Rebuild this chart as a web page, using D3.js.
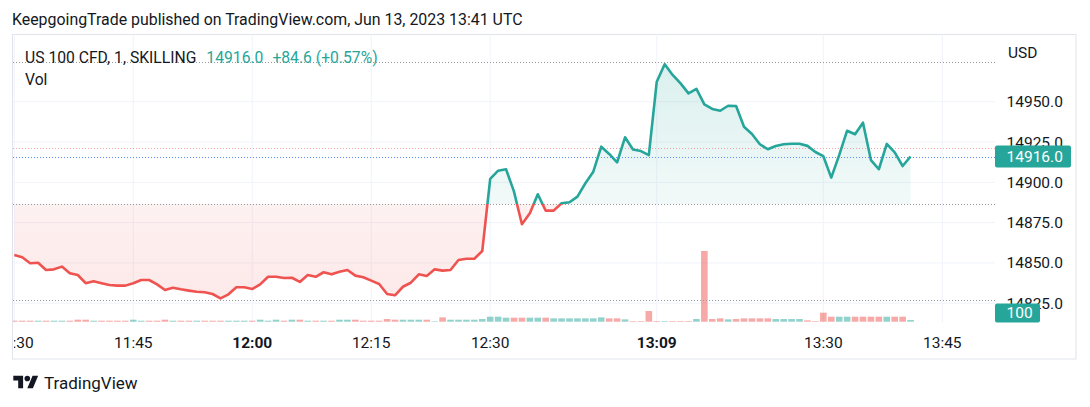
<!DOCTYPE html>
<html><head><meta charset="utf-8">
<script src="https://cdn.jsdelivr.net/npm/d3@7"></script>
<style>
html,body{margin:0;padding:0;background:#fff;}
svg{display:block;font-family:Roboto,"Noto Sans",sans-serif;}
</style>
</head><body>
<svg id="chart" width="1090" height="407"></svg>
<script>
// ---------- DATA ----------
const closes = [
14854.9,14853.5,14849.8,14850.1,14845.6,14846.0,14847.7,14843.6,14842.5,14837.4,
14838.6,14837.4,14836.3,14835.9,14835.9,14837.4,14839.4,14839.4,14836.7,14833.2,
14834.6,14833.6,14832.8,14832.1,14831.8,14830.7,14828.0,14830.5,14834.9,14834.9,
14833.8,14836.7,14841.4,14841.4,14840.6,14840.8,14838.2,14842.5,14841.4,14844.2,
14842.9,14844.5,14845.6,14842.1,14841.1,14839.0,14836.9,14830.7,14829.9,14835.2,
14837.7,14842.9,14841.9,14846.0,14845.2,14845.6,14851.8,14852.6,14852.6,14857.4,
14902.1,14907.2,14908.1,14894.2,14874.0,14880.8,14892.6,14882.4,14882.4,14887.0,
14887.6,14891.1,14899.4,14906.6,14922.1,14917.6,14912.4,14927.9,14920.3,14919.4,
14916.8,14962.4,14973.2,14966.6,14961.4,14955.2,14957.9,14948.4,14945.5,14944.4,
14947.5,14947.3,14934.5,14930.0,14923.6,14920.5,14922.5,14923.6,14923.9,14923.9,
14922.6,14918.8,14916.2,14902.9,14916.9,14932.0,14929.8,14937.0,14913.8,14908.1,
14923.8,14918.6,14910.1,14916.0
];
const volumes = [
60,60,60,60,60,60,60,60,120,120,
60,60,60,60,60,120,60,60,60,120,
60,60,60,60,60,60,60,60,60,60,
60,120,60,120,60,120,120,60,60,60,
60,120,120,120,60,60,60,160,120,120,
120,120,120,30,260,120,120,120,120,160,
300,300,240,240,240,240,240,240,200,200,
200,200,200,200,260,200,200,140,40,40,
640,40,40,40,40,40,160,4240,160,200,
140,160,200,200,200,200,160,160,160,160,
80,40,540,300,300,300,300,300,300,300,
300,300,300,100
];
const volumeUp = [
0,0,0,1,0,1,1,0,0,0, 1,0,0,0,0,1,1,0,0,0,
1,0,0,1,0,0,0,1,1,1, 0,1,1,1,0,1,0,1,0,1,
0,1,1,0,0,0,0,0,0,1, 1,1,0,1,0,1,1,1,1,1,
1,1,1,0,0,1,1,0,1,1, 1,1,1,1,1,0,0,1,0,0,
0,0,1,0,0,0,1,0,0,0, 1,0,0,0,0,0,1,1,1,1,
0,0,0,0,1,1,0,0,0,0, 1,0,0,1
];
const timeTickLabels = ["11:30","11:45","12:00","12:15","12:30","13:09","13:30","13:45"];
const timeTickBars   = [0, 15, 30, 45, 60, 81, 102, 117];
const boldTimeTicks  = ["12:00","13:09"];
const priceTicks = [14825, 14850, 14875, 14900, 14925, 14950];
const baseValue = 14886.5;
const highValue = 14974.5;
const lowValue  = 14827.0;
const askValue  = 14921.0;
const bidValue  = 14916.0;
const lastPrice = 14916.0;
const priceChange = 84.6;
const priceChangePct = 0.57;
const headerText = "KeepgoingTrade published on TradingView.com, Jun 13, 2023 13:41 UTC";
const symbolText = "US 100 CFD, 1, SKILLING";
const currencyText = "USD";

// ---------- LAYOUT ----------
const frame = {l: 12.5, t: 34.5, r: 1076, b: 359};
const plotL = 13, plotR = 995, paneBottom = 323;
const FS = 15.5;
const TEXT = "#131722";
const UP = "#26a69a", DOWN = "#ef5350";

const svg = d3.select("#chart");
const x = d3.scaleLinear().domain([0, 117]).range([14.3, 942.3]);
const y = d3.scaleLinear().domain([14825, 14950]).range([303.2, 101.7]);
const yVol = d3.scaleLinear().domain([0, d3.max(volumes)]).range([321.7, 251]);
const baseY = y(baseValue);

const defs = svg.append("defs");
defs.append("clipPath").attr("id","plotClip").append("rect")
  .attr("x", plotL).attr("y", frame.t).attr("width", plotR-plotL).attr("height", paneBottom-frame.t);
defs.append("clipPath").attr("id","topClip").append("rect")
  .attr("x", plotL).attr("y", frame.t).attr("width", plotR-plotL).attr("height", baseY-frame.t);
defs.append("clipPath").attr("id","botClip").append("rect")
  .attr("x", plotL).attr("y", baseY).attr("width", plotR-plotL).attr("height", paneBottom-baseY);
defs.append("clipPath").attr("id","timeClip").append("rect")
  .attr("x", plotL+1).attr("y", paneBottom).attr("width", plotR-plotL).attr("height", frame.b-paneBottom);

const gTop = defs.append("linearGradient").attr("id","gTop").attr("gradientUnits","userSpaceOnUse")
  .attr("x1",0).attr("x2",0).attr("y1", y(highValue)).attr("y2", baseY);
gTop.append("stop").attr("offset",0).attr("stop-color",UP).attr("stop-opacity",0.17);
gTop.append("stop").attr("offset",1).attr("stop-color",UP).attr("stop-opacity",0.06);
const gBot = defs.append("linearGradient").attr("id","gBot").attr("gradientUnits","userSpaceOnUse")
  .attr("x1",0).attr("x2",0).attr("y1", baseY).attr("y2", y(lowValue));
gBot.append("stop").attr("offset",0).attr("stop-color",DOWN).attr("stop-opacity",0.08);
gBot.append("stop").attr("offset",1).attr("stop-color",DOWN).attr("stop-opacity",0.13);

// header
svg.append("text").attr("x", 12).attr("y", 24.5).attr("font-size", 15.9).attr("fill", TEXT).text(headerText);

// frame
svg.append("rect").attr("x", frame.l).attr("y", frame.t).attr("width", frame.r-frame.l).attr("height", frame.b-frame.t)
  .attr("fill","none").attr("stroke","#e0e3eb").attr("stroke-width",1);

// grid
const grid = svg.append("g");
grid.selectAll("line.h").data(priceTicks).enter().append("line")
  .attr("x1", plotL).attr("x2", plotR).attr("y1", d=>y(d)).attr("y2", d=>y(d))
  .attr("stroke","#f0f3fa").attr("stroke-width",1);
grid.selectAll("line.v").data(timeTickBars).enter().append("line")
  .attr("x1", d=>x(d)).attr("x2", d=>x(d)).attr("y1", frame.t).attr("y2", paneBottom)
  .attr("stroke","#f0f3fa").attr("stroke-width",1);

// volume bars
const barW = 6.6;
svg.append("g").attr("clip-path","url(#plotClip)").selectAll("rect").data(volumes).enter().append("rect")
  .attr("x", (d,i)=>x(i)-barW/2).attr("width", barW)
  .attr("y", d=>yVol(d)).attr("height", d=>yVol(0)-yVol(d))
  .attr("fill", (d,i)=> volumeUp[i] ? "rgba(38,166,154,0.5)" : "rgba(239,83,80,0.5)");

// areas
const area = d3.area().x((d,i)=>x(i)).y0(baseY).y1(d=>y(d));
const plotG = svg.append("g").attr("clip-path","url(#plotClip)");
plotG.append("g").attr("clip-path","url(#topClip)").append("path").datum(closes).attr("d", area).attr("fill","url(#gTop)");
plotG.append("g").attr("clip-path","url(#botClip)").append("path").datum(closes).attr("d", area).attr("fill","url(#gBot)");

// horizontal dotted lines
const hl = [
  {v: highValue, c: "#9598a1"},
  {v: lowValue, c: "#9598a1"},
  {v: baseValue, c: "#9598a1"},
  {v: askValue, c: "#f7a3a1"},
  {v: bidValue, c: "#5b8ff9"}
];
plotG.selectAll("line.dl").data(hl).enter().append("line")
  .attr("x1", plotL).attr("x2", plotR).attr("y1", d=>Math.round(y(d.v))+0.5).attr("y2", d=>Math.round(y(d.v))+0.5)
  .attr("stroke", d=>d.c).attr("stroke-width",1).attr("stroke-dasharray","1,2");

// line
const line = d3.line().x((d,i)=>x(i)).y(d=>y(d));
plotG.append("g").attr("clip-path","url(#topClip)").append("path").datum(closes).attr("d", line)
  .attr("fill","none").attr("stroke",UP).attr("stroke-width",2.6).attr("stroke-linejoin","round");
plotG.append("g").attr("clip-path","url(#botClip)").append("path").datum(closes).attr("d", line)
  .attr("fill","none").attr("stroke",DOWN).attr("stroke-width",2.6).attr("stroke-linejoin","round");

// legend
const leg = svg.append("text").attr("x", 25).attr("y", 62.5).attr("font-size", 15.7).attr("fill", TEXT);
leg.append("tspan").text(symbolText);
leg.append("tspan").attr("dx", 10).attr("fill", UP).text(lastPrice.toFixed(1));
leg.append("tspan").attr("dx", 9).attr("fill", UP).text("+" + priceChange.toFixed(1) + " (+" + priceChangePct.toFixed(2) + "%)");
svg.append("text").attr("x", 25).attr("y", 84.5).attr("font-size", 15.7).attr("fill", TEXT).text("Vol");

// price axis
svg.append("text").attr("x", 1008).attr("y", 58.3).attr("font-size", FS).attr("fill", TEXT).text(currencyText);
svg.append("g").selectAll("text").data(priceTicks).enter().append("text")
  .attr("x", 1006.5).attr("y", d=>y(d)+5.5).attr("font-size", FS).attr("fill", TEXT)
  .text(d=>d3.format(".1f")(d));

// last price label
const lpY = y(lastPrice);
svg.append("rect").attr("x", 995).attr("y", lpY-11).attr("width", 76).attr("height", 22).attr("rx", 2).attr("fill", UP);
svg.append("text").attr("x", 1006.5).attr("y", lpY+5.5).attr("font-size", FS).attr("fill","#fff").text(lastPrice.toFixed(1));

// last volume label
const lastVol = volumes[volumes.length-1];
const lvY = Math.min(yVol(lastVol), paneBottom - 10);
svg.append("rect").attr("x", 995).attr("y", lvY-9.5).attr("width", 45).attr("height", 19).attr("rx", 2)
  .attr("fill", volumeUp[volumeUp.length-1] ? UP : DOWN);
svg.append("text").attr("x", 1006.5).attr("y", lvY+5.3).attr("font-size", FS).attr("fill","#fff").text(String(lastVol));

// time axis
svg.append("g").attr("clip-path","url(#timeClip)").selectAll("text").data(timeTickLabels).enter().append("text")
  .attr("x", (d,i)=>x(timeTickBars[i])).attr("y", 348).attr("text-anchor","middle")
  .attr("font-size", FS).attr("fill", TEXT)
  .attr("font-weight", d=> boldTimeTicks.includes(d) ? 700 : 400)
  .text(d=>d);

// footer logo
const logo = svg.append("g").attr("transform","translate(13.3,372.9) scale(0.7)").attr("fill", TEXT);
logo.append("path").attr("d","M14 22H7V11H0V4h14v18zM28 22h-8l7.5-18h8L28 22z");
logo.append("circle").attr("cx",20).attr("cy",8).attr("r",4);
svg.append("text").attr("x", 44).attr("y", 388.5).attr("font-size", 17).attr("fill", TEXT).text("TradingView");
</script>
</body></html>
